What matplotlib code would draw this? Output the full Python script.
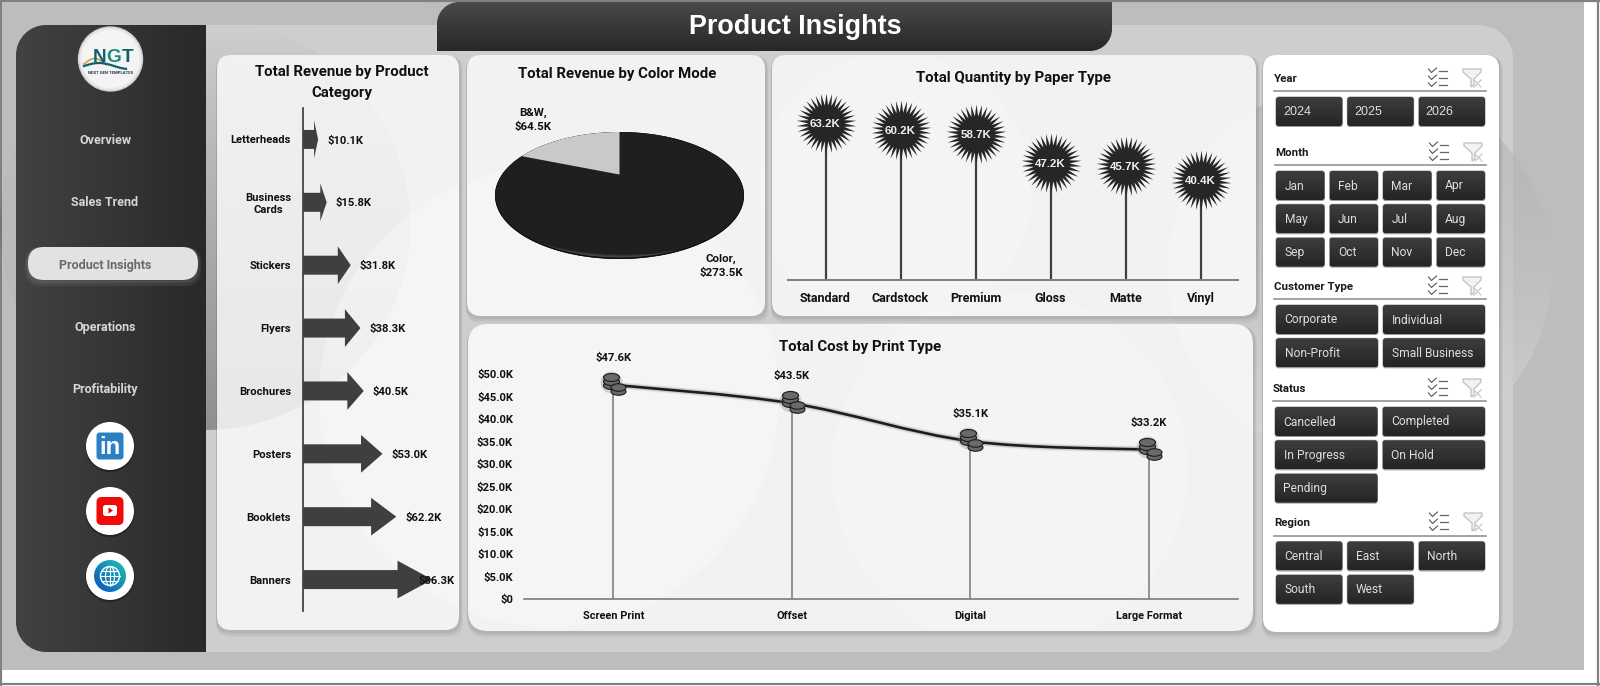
import numpy as np
import matplotlib
matplotlib.use("Agg")
import matplotlib.pyplot as plt
import matplotlib.patheffects as pe
from matplotlib.patches import FancyBboxPatch, Circle, Ellipse, PathPatch, Polygon, Rectangle
from matplotlib.path import Path
from matplotlib.transforms import ScaledTranslation, Affine2D
from matplotlib.colors import to_rgb

# ---------- data ----------
page_title = "Product Insights"
nav_items = ["Overview", "Sales Trend", "Product Insights", "Operations", "Profitability"]

product_categories = ["Letterheads", "Business\nCards", "Stickers", "Flyers", "Brochures", "Posters", "Booklets", "Banners"]
product_revenue = [10.1, 15.8, 31.8, 38.3, 40.5, 53.0, 62.2, 86.3]

color_modes = ["B&W", "Color"]
color_revenue = [64.5, 273.5]

paper_types = ["Standard", "Cardstock", "Premium", "Gloss", "Matte", "Vinyl"]
paper_quantity = [63.2, 60.2, 58.7, 47.2, 45.7, 40.4]

print_types = ["Screen Print", "Offset", "Digital", "Large Format"]
print_cost = [47.6, 43.5, 35.1, 33.2]
cost_ticks = [0, 5, 10, 15, 20, 25, 30, 35, 40, 45, 50]

years = ["2024", "2025", "2026"]
months = ["Jan", "Feb", "Mar", "Apr", "May", "Jun", "Jul", "Aug", "Sep", "Oct", "Nov", "Dec"]
customer_types = ["Corporate", "Individual", "Non-Profit", "Small Business"]
statuses = ["Cancelled", "Completed", "In Progress", "On Hold", "Pending"]
regions = ["Central", "East", "North", "South", "West"]

# ---------- set-up ----------
W, H = 1600, 686
PX = 0.72  # points per pixel at dpi 100
FONT = "Roboto"
plt.rcParams["font.family"] = [FONT, "DejaVu Sans"]
fig = plt.figure(figsize=(W / 100, H / 100), dpi=100, facecolor="white")
bg = fig.add_axes([0, 0, 1, 1], zorder=0)
bg.set_xlim(0, W)
bg.set_ylim(H, 0)
bg.axis("off")
bg.autoscale(False)


def chart_axes(l, t, r, b):
    ax = fig.add_axes([l / W, 1 - b / H, (r - l) / W, (b - t) / H], zorder=2)
    ax.patch.set_alpha(0)
    return ax


def corner_path(l, t, r, b, tl=0, tr=0, br=0, bl=0):
    k = 0.5523
    v = [(l + tl, t), (r - tr, t), (r - tr + k * tr, t), (r, t + tr - k * tr), (r, t + tr),
         (r, b - br), (r, b - br + k * br), (r - br + k * br, b), (r - br, b),
         (l + bl, b), (l + bl - k * bl, b), (l, b - bl + k * bl), (l, b - bl),
         (l, t + tl), (l, t + tl - k * tl), (l + tl - k * tl, t), (l + tl, t), (l + tl, t)]
    c = [Path.MOVETO, Path.LINETO, Path.CURVE4, Path.CURVE4, Path.CURVE4,
         Path.LINETO, Path.CURVE4, Path.CURVE4, Path.CURVE4,
         Path.LINETO, Path.CURVE4, Path.CURVE4, Path.CURVE4,
         Path.LINETO, Path.CURVE4, Path.CURVE4, Path.CURVE4, Path.CLOSEPOLY]
    return Path(v, c)


def gradient(l, t, r, b, c0, c1, clip=None, vertical=True, z=1, a0=1.0, a1=1.0):
    s = np.linspace(0, 1, 64)
    c0, c1 = np.array(to_rgb(c0)), np.array(to_rgb(c1))
    rgb = np.outer(1 - s, c0) + np.outer(s, c1)
    rgba = np.column_stack([rgb, a0 + (a1 - a0) * s])
    arr = rgba[:, None, :] if vertical else rgba[None, :, :]
    im = bg.imshow(arr, extent=(l, r, b, t), origin="upper", aspect="auto", zorder=z, interpolation="bilinear")
    if clip is not None:
        im.set_clip_path(clip)
    return im


def panel(l, t, r, b, rad=14, color="#f1f2f2", z=3):
    for i, a in zip((6, 4, 2), (0.05, 0.07, 0.10)):
        bg.add_patch(FancyBboxPatch((l - 1, t + 1), r - l + 2 + i / 2, b - t + i, boxstyle=f"round,pad=0,rounding_size={rad}",
                                    fc="#555555", ec="none", alpha=a, zorder=z))
    bg.add_patch(FancyBboxPatch((l, t), r - l, b - t, boxstyle=f"round,pad=0,rounding_size={rad}",
                                fc=color, ec="none", zorder=z + 0.1))


# ---------- page background ----------
bg.add_patch(Rectangle((2, 2), 1582, 668, fc="#bdbdbd", ec="none", zorder=0.5))
inner = PathPatch(corner_path(16, 25, 1513, 652, tr=34, br=28, tl=30, bl=30), fc="#cccecf", ec="none", zorder=1)
bg.add_patch(inner)
for seg in ([(0, 1), (W, 1)], [(1, 0), (1, H)], [(0, H - 2), (W, H - 2)], [(W - 2, 0), (W - 2, H)]):
    bg.plot(*zip(*seg), color="#808080", lw=1.6, zorder=0.6)

# dark circle behind the first panel, kept inside the inner sheet
c = Circle((205, 225), 205, fc="none", ec="none", zorder=1)
bg.add_patch(c)
im_dark = gradient(0, 20, 410, 430, "#555555", "#555555", clip=c, z=1.5, a0=0.0, a1=0.5)
# right circle under panels
c2 = Circle((1360, 270), 192, fc="none", ec="none")
bg.add_patch(c2)
gradient(1168, 78, 1552, 462, "#aaaaaa", "#d8d8d8", clip=c2, z=1.6, a0=0.45, a1=0.75)

# ---------- panels ----------
panel_boxes = [(217, 55, 459, 630, 14), (467, 55, 765, 316, 14), (772, 55, 1256, 316, 14), (468, 324, 1253, 631, 20)]
for l, t, r, b, rad in panel_boxes:
    panel(l, t, r, b, rad=rad)
panel_union = Path.make_compound_path(*[corner_path(l, t, r, b, rad, rad, rad, rad) for l, t, r, b, rad in panel_boxes])
union_patch = PathPatch(panel_union, fc="none", ec="none")
bg.add_patch(union_patch)

# translucent circles over panels (only seen on the panels)
for (cx, cy, r), a in zip([(549, 397, 230), (895, 190, 137), (1010, 470, 178), (1360, 270, 192)], (0.3, 0.22, 0.16, 0.2)):
    circ = Circle((cx, cy), r, fc="white", ec="none", alpha=a, zorder=3.5)
    bg.add_patch(circ)
    circ.set_clip_path(union_patch)
c3 = Circle((205, 225), 205, fc="none", ec="none")
bg.add_patch(c3)
im3 = gradient(0, 20, 410, 430, "#888888", "#888888", clip=c3, z=3.4, a0=0.0, a1=0.1)

# sidebar
sb = PathPatch(corner_path(16, 25, 206, 652, tl=30, bl=30), fc="none", ec="none", zorder=4)
bg.add_patch(sb)
gradient(16, 25, 206, 652, "#424242", "#292929", clip=sb, vertical=False, z=4)
# hide the part of the dark circle left of the sheet
bg.add_patch(Rectangle((2, 2), 14, 668, fc="#bdbdbd", ec="none", zorder=2))
bg.add_patch(Rectangle((2, 2), 420, 23, fc="#bdbdbd", ec="none", zorder=2))

# title tab
tab = PathPatch(corner_path(437, 2, 1112, 51, tl=22, br=22), fc="none", ec="none", zorder=4)
bg.add_patch(tab)
gradient(437, 2, 1112, 51, "#4a4a4a", "#272727", clip=tab, z=4)
bg.text(795, 27.5, page_title, color="white", fontsize=27 * PX, fontweight="bold", ha="center", va="center",
        family="Liberation Sans", zorder=5)

# navigation
nav_y = [140.5, 202.5, 265.5, 327.5, 390]
for i in (6, 3):
    bg.add_patch(FancyBboxPatch((28 - i / 2, 247), 170 + i, 33 + i, boxstyle="round,pad=0,rounding_size=16",
                                fc="#a8a8a8", ec="none", alpha=0.12, zorder=5))
bg.add_patch(FancyBboxPatch((28, 247), 170, 33, boxstyle="round,pad=0,rounding_size=16", fc="#e2e2e2", ec="none", zorder=5.1))
for name, y in zip(nav_items, nav_y):
    active = name == page_title
    bg.text(105, y, name, color="#6a6a6a" if active else "#d6d6d6", fontsize=12.5 * PX, fontweight="bold",
            ha="center", va="center", zorder=6)

# logo
bg.add_patch(Circle((110.5, 59), 32, fc="#e9e9e9", ec="#cfcfcf", lw=1, zorder=6))
bg.add_patch(Circle((110.5, 59), 29, fc="#f4f4f4", ec="none", zorder=6.1))
for ch, x, col in zip("NGT", (100, 114, 128), ("#12606e", "#1d8a7e", "#12606e")):
    bg.text(x, 58, ch, color=col, fontsize=19 * PX, fontweight="bold", ha="center", va="center", zorder=6.3,
            family="Liberation Sans")
t = np.linspace(0, 1, 30)
bg.plot(84 + 22 * t, 64 - 6 * np.sin(np.pi * t) + 1 * t, color="#c9a24a", lw=1.2, zorder=6.2)
bg.plot(84 + 42 * t, 66 - 3 * np.sin(np.pi * t * 1.4), color="#12606e", lw=1.6, zorder=6.2)
bg.text(110.5, 73.5, "NEXT GEN TEMPLATES", color="#1b3b44", fontsize=3.1, fontweight="bold", ha="center", va="center", zorder=6.3)

# social icons
ix, iy = 110, [446, 511, 576]
for y in iy:
    bg.add_patch(Circle((ix, y + 1.5), 24.5, fc="#000000", alpha=0.35, ec="none", zorder=6))
    bg.add_patch(Circle((ix, y), 24, fc="white", ec="none", zorder=6.1))
bg.add_patch(FancyBboxPatch((96.5, 432.5), 27, 27, boxstyle="round,pad=0,rounding_size=3", fc="#2b80c4", ec="none", zorder=6.2))
bg.text(110, 447, "in", color="white", fontsize=24 * PX, fontweight="bold", ha="center", va="center", zorder=6.3, family="Liberation Sans")
bg.add_patch(FancyBboxPatch((96.5, 497), 27, 28, boxstyle="round,pad=0,rounding_size=5", fc="#f00a0a", ec="none", zorder=6.2))
bg.add_patch(FancyBboxPatch((103, 505), 14, 11, boxstyle="round,pad=0,rounding_size=2.5", fc="white", ec="none", zorder=6.3))
bg.add_patch(Polygon([(108.5, 507.5), (108.5, 513.5), (113, 510.5)], fc="#e00000", ec="none", zorder=6.4))
gl = Circle((110, 576), 16, fc="none", ec="none")
bg.add_patch(gl)
s_ = np.linspace(0, 1, 48)
u_, w_ = np.meshgrid(s_, s_, indexing="ij")
m_ = ((w_ + (1 - u_)) / 2)[..., None]
grad_ = np.array(to_rgb("#0a4fc4")) * (1 - m_) + np.array(to_rgb("#1fc4ae")) * m_
im_ = bg.imshow(grad_, extent=(94, 126, 592, 560), origin="upper", aspect="auto", zorder=6.2)
im_.set_clip_path(gl)
bg.add_patch(Circle((110, 576), 9.5, fc="none", ec="white", lw=1, zorder=6.3))
bg.add_patch(Ellipse((110, 576), 9, 19, fc="none", ec="white", lw=0.8, zorder=6.3))
bg.plot([110, 110], [566.5, 585.5], color="white", lw=0.8, zorder=6.3)
bg.plot([100.5, 119.5], [576, 576], color="white", lw=0.8, zorder=6.3)
bg.plot([102, 118], [571, 571], color="white", lw=0.8, zorder=6.3)
bg.plot([102, 118], [581, 581], color="white", lw=0.8, zorder=6.3)

# ---------- slicer panel ----------
panel(1263, 55, 1499, 632, rad=14, color="#ffffff", z=4)


def button(l, t, r, b, label, family=FONT, size=12, pad=8.5):
    bg.add_patch(FancyBboxPatch((l - 0.5, t - 0.5), r - l + 1, b - t + 1.5, boxstyle="round,pad=0,rounding_size=3",
                                fc="#9a9a9a", ec="none", zorder=5))
    p = FancyBboxPatch((l, t), r - l, b - t, boxstyle="round,pad=0,rounding_size=3", fc="none", ec="none", zorder=5.1)
    bg.add_patch(p)
    gradient(l, t, r, b, "#3e3e3e", "#242424", clip=p, z=5.1)
    bg.text(l + pad, (t + b) / 2 + 0.5, label, color="#dedede", fontsize=size * PX, ha="left", va="center", family=family, zorder=5.3)


def slicer_header(name, x, y_text, y_line, ix):
    bg.text(x, y_text + 1, name, color="#1a1a1a", fontsize=11.5 * PX, fontweight="bold", ha="left", va="center", zorder=5)
    bg.plot([x, 1486], [y_line, y_line], color="#8a8a8a", lw=1.1, zorder=5)
    for k, dy in enumerate((-7, 0, 7)):
        yy = y_text + dy
        bg.plot([ix - 9.5, ix - 6.5, ix - 1.5], [yy - 2, yy + 1.5, yy - 3], color="#555555", lw=0.8, zorder=5)
        bg.plot([ix + 1, ix + 9], [yy, yy], color="#666666", lw=0.9, zorder=5)
    fx = ix + 34
    bg.add_patch(Polygon([(fx - 9, y_text - 9), (fx + 9, y_text - 9), (fx + 9, y_text - 6), (fx + 2, y_text + 1),
                          (fx + 2, y_text + 7), (fx - 1, y_text + 9), (fx - 1, y_text + 1), (fx - 9, y_text - 6)],
                         fc="#f2f2f2", ec="#c0c0c0", lw=0.9, zorder=5))
    bg.plot([fx + 2, fx + 9], [y_text + 2, y_text + 9], color="#c8c8c8", lw=0.9, zorder=5.1)
    bg.plot([fx + 2, fx + 9], [y_text + 9, y_text + 2], color="#c8c8c8", lw=0.9, zorder=5.1)


def slicer_grid(items, cols, top, rowstep=33.3, h=29, x0=1276, x1=1485, gap=5, **kw):
    w = (x1 - x0 - gap * (cols - 1)) / cols
    for n, lab in enumerate(items):
        r_, c_ = divmod(n, cols)
        l = x0 + c_ * (w + gap)
        t_ = top + r_ * rowstep
        button(l, t_, l + w, t_ + h, lab, **kw)


slicer_header("Year", 1274, 78, 91, 1438)
slicer_grid(years, 3, 97, family="Liberation Sans", size=12.5, pad=7)
slicer_header("Month", 1275, 152, 165, 1439)
slicer_grid(months, 4, 171)
slicer_header("Customer Type", 1274, 286, 299, 1438)
slicer_grid(customer_types, 2, 305)
slicer_header("Status", 1273, 388, 401, 1438)
slicer_grid(statuses, 2, 407, x0=1275)
slicer_header("Region", 1274, 522, 536, 1439)
slicer_grid(regions, 3, 541.5)

# ---------- chart titles ----------
def title(x, y, s):
    bg.text(x, y, s, color="#111111", fontsize=15 * PX, fontweight="bold", ha="center", va="center", zorder=4)


title(342, 72, "Total Revenue by Product")
title(342, 92.5, "Category")
title(617, 74, "Total Revenue by Color Mode")
title(1014, 78, "Total Quantity by Paper Type")
title(860, 347, "Total Cost by Print Type")

LBL = dict(fontweight="bold", color="#111111")

# ---------- arrows: revenue by product category ----------
ax1 = chart_axes(303, 108, 453, 611)
ax1.set_xlim(0, 100)
ax1.set_ylim(len(product_categories) - 0.5, -0.5)
shaft, head = 0.151, 0.30
for i, v in enumerate(product_revenue):
    hl = 0.27 * v
    ax1.fill([0, v - hl, v - hl, v, v - hl, v - hl, 0],
             [i - shaft, i - shaft, i - head, i, i + head, i + shaft, i + shaft],
             color="#3f3f3f", lw=0, clip_on=False)
    off = -14 if v > 80 else 9
    ax1.annotate(f"${v:.1f}K", (v, i), xytext=(off * PX, 0), textcoords="offset points", ha="left", va="center_baseline",
                 fontsize=11.2 * PX, annotation_clip=False, zorder=5, **LBL)
ax1.set_yticks(range(len(product_categories)))
ax1.set_yticklabels(product_categories, fontsize=11.2 * PX, multialignment="center", **LBL)
ax1.set_xticks([])
ax1.tick_params(axis="y", length=0, pad=12 * PX)
for lab in ax1.get_yticklabels():
    lab.set_y(0)
    lab.set_verticalalignment("center_baseline")
for s in ("top", "right", "bottom"):
    ax1.spines[s].set_visible(False)
ax1.spines["left"].set_color("#444444")
ax1.spines["left"].set_linewidth(1.5 * PX * 1.2)

# ---------- pie: revenue by colour mode ----------
ax2 = chart_axes(495, 132, 744, 259)
wedges, _ = ax2.pie(color_revenue, startangle=90, counterclock=True, colors=["#c9c9c9", "#1f1f1f"], radius=1.0)
ax2.set_aspect("auto")
ax2.set_xlim(-1, 1)
ax2.set_ylim(-1, 1)
E = 0.33  # perspective shift of the pie centre


def boost(vertices):
    u, v = vertices[:, 0], vertices[:, 1]
    d = 1 + E * v
    return np.column_stack([u * np.sqrt(1 - E ** 2) / d, (v + E) / d])


tilted = []
for w in wedges:
    p0 = w.get_path()
    fc = w.get_facecolor()
    w.remove()
    tilted.append(PathPatch(Path(boost(p0.vertices), p0.codes), fc=fc, ec="none"))
ax2.add_patch(tilted[1])
th = np.linspace(0, 2 * np.pi, 240)
ax2.fill(np.cos(th), np.sin(th), color="#0e0e0e", lw=0, zorder=1.1)
ax2.fill(0.995 * np.cos(th), 0.988 * np.sin(th) + 0.008, color="#1f1f1f", lw=0, zorder=1.2)
a = np.radians(np.linspace(225, 305, 80))
bell = np.sin((a - a[0]) / (a[-1] - a[0]) * np.pi) ** 1.5
for k in range(1, 7):
    inner_y = 0.975 * np.sin(a) + 0.05 * bell * (7 - k) / 6
    ax2.fill(np.r_[0.985 * np.cos(a), 0.985 * np.cos(a)[::-1]], np.r_[0.975 * np.sin(a), inner_y[::-1]],
             color="white", alpha=0.04, lw=0, zorder=1.3)
tilted[0].set_zorder(1.5)
ax2.add_patch(tilted[0])
bg.text(533, 120, f"{color_modes[0]},\n${color_revenue[0]:.1f}K", fontsize=11.5 * PX, ha="center", va="center",
        linespacing=1.45, zorder=4, **LBL)
bg.text(721, 265.5, f"{color_modes[1]},\n${color_revenue[1]:.1f}K", fontsize=11.5 * PX, ha="center", va="center",
        linespacing=1.45, zorder=4, **LBL)

# ---------- starbursts: quantity by paper type ----------
ax3 = chart_axes(788, 81, 1238, 280)
ax3.set_xlim(-0.5, len(paper_types) - 0.5)
ax3.set_ylim(0, 80)
xs = np.arange(len(paper_types))
ax3.vlines(xs, 0, paper_quantity, color="#404040", lw=2.2 * PX)
star = Path.unit_regular_star(34, 0.6)
ax3.plot(xs, paper_quantity, ls="", marker=star, ms=60 * PX, mfc="#262626", mec="#262626", mew=0, clip_on=False)
for x_, v in zip(xs, paper_quantity):
    ax3.text(x_, v, f"{v:.1f}K", color="#f2f2f2", fontsize=11.5 * PX, fontweight="bold", ha="center", va="center_baseline",
             family="Liberation Sans", zorder=5)
ax3.set_xticks(xs)
ax3.set_xticklabels(paper_types, fontsize=12.5 * PX, **LBL)
ax3.set_yticks([])
ax3.tick_params(axis="x", length=0, pad=12 * PX)
for s in ("top", "left", "right"):
    ax3.spines[s].set_visible(False)
ax3.spines["bottom"].set_color("#808080")
ax3.spines["bottom"].set_linewidth(2 * PX)

# ---------- line: cost by print type ----------
ax4 = chart_axes(524, 374, 1238, 599.3)
ax4.set_xlim(-0.5, len(print_types) - 0.5)
ax4.set_ylim(0, 50)
xp = np.arange(len(print_types), dtype=float)
yp = np.array(print_cost)
ax4.vlines(xp, 0, yp, color="#7d7d7d", lw=1.6 * PX)
vv, cc = [(xp[0], yp[0])], [Path.MOVETO]
for i in range(len(xp) - 1):
    i0, i3 = max(i - 1, 0), min(i + 2, len(xp) - 1)
    vv += [(xp[i] + (xp[i + 1] - xp[i0]) / 6, yp[i] + (yp[i + 1] - yp[i0]) / 6),
           (xp[i + 1] - (xp[i3] - xp[i]) / 6, yp[i + 1] - (yp[i3] - yp[i]) / 6),
           (xp[i + 1], yp[i + 1])]
    cc += [Path.CURVE4] * 3
smooth = PathPatch(Path(vv, cc), fc="none", ec="#1c1c1c", lw=2.6 * PX, capstyle="round", zorder=3)
smooth.set_path_effects([pe.Stroke(linewidth=7 * PX, foreground="#888888", alpha=0.12),
                         pe.Stroke(linewidth=5 * PX, foreground="#666666", alpha=0.22),
                         pe.Normal()])
ax4.add_patch(smooth)
coin = Path.unit_circle().transformed(Affine2D().scale(1, 0.5))
stacks = [(-2, 8, 16), (-2, 4, 16), (-2, 0, 16), (5, -2, 15), (5, -6, 15)]
ax4.plot(xp - 0.01, yp + 0.6, ls="", marker="o", ms=22 * PX, mfc="#777777", mec="none", alpha=0.28, zorder=3.5, clip_on=False)
for dx, dy, ms in sorted(stacks, key=lambda s: s[1]):
    pass
for dx, dy, ms in [stacks[2], stacks[1], stacks[0], stacks[4], stacks[3]]:
    tr = ax4.transData + ScaledTranslation(dx / 100, dy / 100, fig.dpi_scale_trans)
    ax4.plot(xp, yp, ls="", marker=coin, ms=ms * PX, mfc="#6a6a6a", mec="#1a1a1a", mew=1.1 * PX, transform=tr,
             zorder=4, clip_on=False)
for x_, v in zip(xp, yp):
    ax4.annotate(f"${v:.1f}K", (x_, v), xytext=(0, 27 * PX), textcoords="offset points", ha="center", va="center",
                 fontsize=11.2 * PX, annotation_clip=False, **LBL)
ax4.set_xticks(xp)
ax4.set_xticklabels(print_types, fontsize=11 * PX, **LBL)
ax4.set_yticks(cost_ticks)
ax4.set_yticklabels([f"${v:.1f}K" if v else "$0" for v in cost_ticks], fontsize=11.2 * PX, **LBL)
ax4.tick_params(axis="both", length=0)
ax4.tick_params(axis="y", pad=11 * PX)
ax4.tick_params(axis="x", pad=12 * PX)
for lab in ax4.get_yticklabels():
    lab.set_verticalalignment("center_baseline")
for s in ("top", "left", "right"):
    ax4.spines[s].set_visible(False)
ax4.spines["bottom"].set_color("#777777")
ax4.spines["bottom"].set_linewidth(1.6 * PX)

fig.savefig("out.png", dpi=100, facecolor="white")
